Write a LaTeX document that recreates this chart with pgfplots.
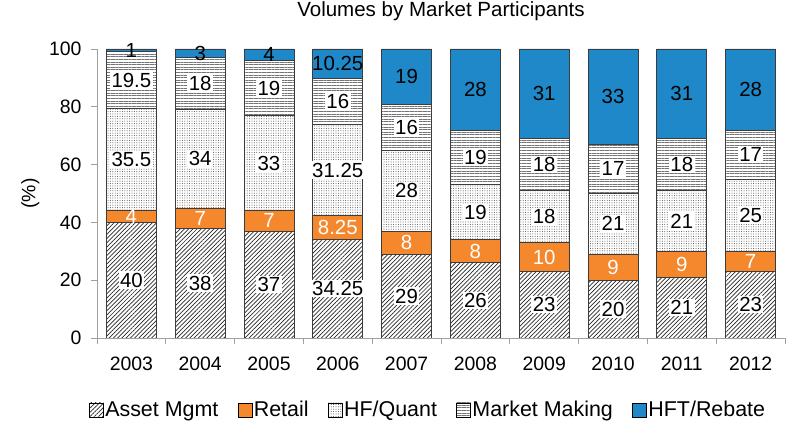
\documentclass[border=0pt]{standalone}
\usepackage{pgfplots}
\pgfplotsset{compat=1.18}
\usepackage{pgfplotstable}
\usepackage{fontspec}
\setmainfont{Liberation Sans}
\usetikzlibrary{patterns.meta}
\definecolor{retail}{RGB}{245,135,45}
\definecolor{hft}{RGB}{31,136,201}
\definecolor{axisgray}{RGB}{160,160,160}
\definecolor{edge}{RGB}{60,60,60}
\pgfplotstableread{
x yr am re hf mm hft
0 2003 40 4 35.5 19.5 1
1 2004 38 7 34 18 3
2 2005 37 7 33 19 4
3 2006 34.25 8.25 31.25 16 10.25
4 2007 29 8 28 16 19
5 2008 26 8 19 19 28
6 2009 23 10 18 18 31
7 2010 20 9 21 17 33
8 2011 21 9 21 18 31
9 2012 23 7 25 17 28
}\data
\newcommand{\fs}{\fontsize{19.5}{22}\selectfont}
\begin{document}
\begin{tikzpicture}
\path[use as bounding box] (0,0) rectangle (792bp,426bp);
\begin{axis}[
  at={(97bp,88bp)}, anchor=south west,
  scale only axis, width=688bp, height=289bp,
  ybar stacked, bar width=50bp,
  xmin=-0.5, xmax=9.5, ymin=0, ymax=100,
  axis x line=bottom, axis y line=left,
  axis line style={draw=axisgray, line width=0.9pt, -},
  xtick={0,...,9},
  xticklabels={2003,2004,2005,2006,2007,2008,2009,2010,2011,2012},
  major x tick style={draw=none},
  minor xtick={-0.5,0.5,...,9.5},
  minor tick length=6bp,
  minor x tick style={draw=axisgray, line width=0.9pt},
  ytick={0,20,...,100},
  major tick length=6bp,
  y tick style={draw=axisgray, line width=0.9pt},
  tick align=outside,
  /pgf/number format/assume math mode=true,
  tick label style={font=\fs},
  xticklabel style={anchor=base, yshift=-26bp},
  yticklabel style={anchor=east, xshift=-6bp},
  ylabel={(\%)},
  ylabel style={at={(axis description cs:-0.097,0.5)}, anchor=center, font=\fs},
  title={Volumes by Market Participants},
  title style={at={(axis description cs:0.5,1)}, anchor=center, yshift=32bp, font=\fontsize{20.6}{24}\selectfont},
  legend columns=5,
  legend style={at={(axis description cs:0.481,-0.249)}, anchor=center, draw=none,
    font=\fontsize{21.5}{24}\selectfont,
    nodes={inner xsep=1.5bp},
    /tikz/every even column/.append style={column sep=18bp}},
  myleg/.style={legend image code/.code={\draw[##1, draw=black, line width=0.5pt] (0bp,-7bp) rectangle (14bp,7bp);}},
  nodes near coords,
  point meta=explicit symbolic,
  every node near coord/.append style={font=\fontsize{20.5}{24}\selectfont, anchor=center, inner sep=1.5bp},
]
\addplot[draw=edge, line width=0.8pt, pattern={Lines[angle=45,distance=3bp,line width=0.7bp]}, pattern color=black!85, myleg,
  every node near coord/.append style={fill=white}]
  table[x=x, y=am, meta=am] {\data};
\addlegendentry{Asset Mgmt}
\addplot[draw=edge, line width=0.8pt, fill=retail, myleg,
  every node near coord/.append style={text=white}]
  table[x=x, y=re, meta=re] {\data};
\addlegendentry{Retail}
\addplot[draw=edge, line width=0.8pt, pattern={Dots[distance=2.4bp,radius=0.5bp]}, pattern color=black!70, myleg,
  every node near coord/.append style={fill=white}]
  table[x=x, y=hf, meta=hf] {\data};
\addlegendentry{HF/Quant}
\addplot[draw=edge, line width=0.8pt, pattern={Lines[angle=0,distance=2.6bp,line width=0.8bp]}, pattern color=black!55, myleg,
  every node near coord/.append style={fill=white}]
  table[x=x, y=mm, meta=mm] {\data};
\addlegendentry{Market Making}
\addplot[draw=edge, line width=0.8pt, fill=hft, myleg,
  every node near coord/.append style={text=black}]
  table[x=x, y=hft, meta=hft] {\data};
\addlegendentry{HFT/Rebate}
\end{axis}
\end{tikzpicture}
\end{document}
